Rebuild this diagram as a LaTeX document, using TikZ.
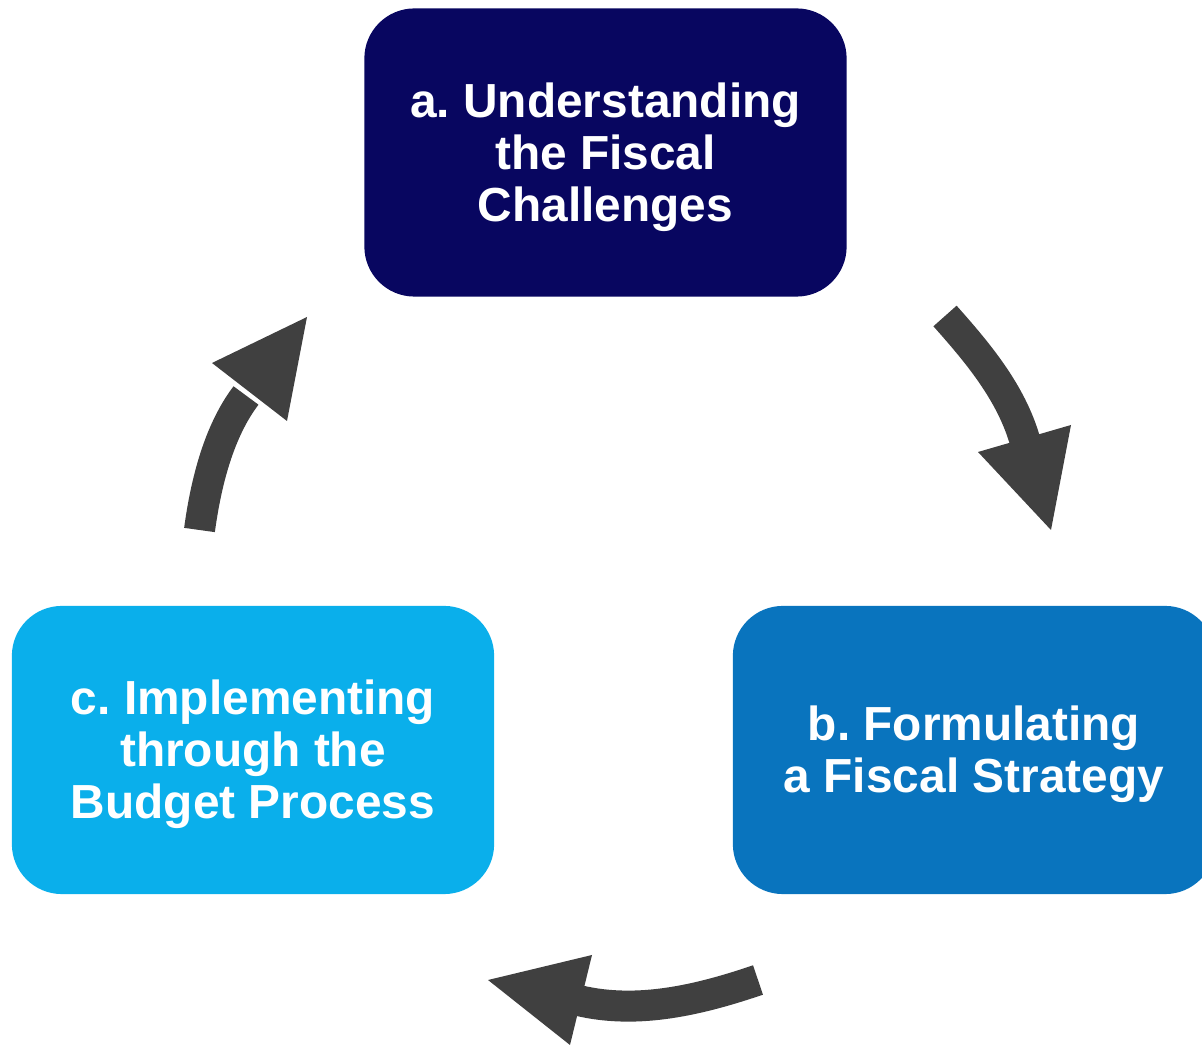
\documentclass[tikz,border=0pt]{standalone}
\usepackage{fontspec}
\setmainfont{Liberation Sans}
\frenchspacing
\definecolor{navybox}{RGB}{8,6,96}
\definecolor{bluebox}{RGB}{9,116,190}
\definecolor{cyanbox}{RGB}{10,175,235}
\definecolor{arrowgray}{RGB}{64,64,64}
\begin{document}
\begin{tikzpicture}[x=0.01cm,y=-0.01cm,
  box/.style={rounded corners=0.5cm, minimum width=4.82cm, minimum height=2.88cm, inner sep=0pt},
  boxtext/.style={text=white, align=center, inner sep=0pt,
    font=\fontsize{13.6pt}{14.8pt}\selectfont\bfseries},
  shaft/.style={line width=0.31cm, draw=arrowgray, line cap=butt},
  head/.style={fill=arrowgray}]
\clip (0,0) rectangle (1202,1046);
\node[box, fill=navybox] (a) at (605.5,152.5) {};
\node[boxtext] (at) at (605.5,157) {a. Understanding\\the Fiscal\\Challenges};
\node[box, fill=bluebox] (b) at (974,750) {};
\node[boxtext] (bt) at (974,754) {b. Formulating\\a Fiscal Strategy};
\node[box, fill=cyanbox] (c) at (253,750) {};
\node[boxtext] (ct) at (253,754) {c. Implementing\\through the\\Budget Process};
% arrow a -> b
\coordinate (t1) at (945,316);
\coordinate (e1) at (1025,441);
\draw[shaft] (t1) .. controls (977,352) and (1011,392) .. (e1);
\fill[head] (978,452) -- (1071,425) -- (1051,530) -- cycle;
% arrow b -> c
\coordinate (t2) at (758,980);
\coordinate (e2) at (578.5,1000.5);
\draw[shaft] (t2) .. controls (702,999) and (639,1015) .. (e2);
\fill[head] (592,955) -- (570,1045) -- (488,980) -- cycle;
% arrow c -> a
\coordinate (t3) at (199.5,530);
\coordinate (e3) at (246,395.5);
\draw[shaft] (t3) .. controls (206,482) and (219,431) .. (e3);
\fill[head] (212,363) -- (287,421) -- (307,317) -- cycle;
\end{tikzpicture}
\end{document}
